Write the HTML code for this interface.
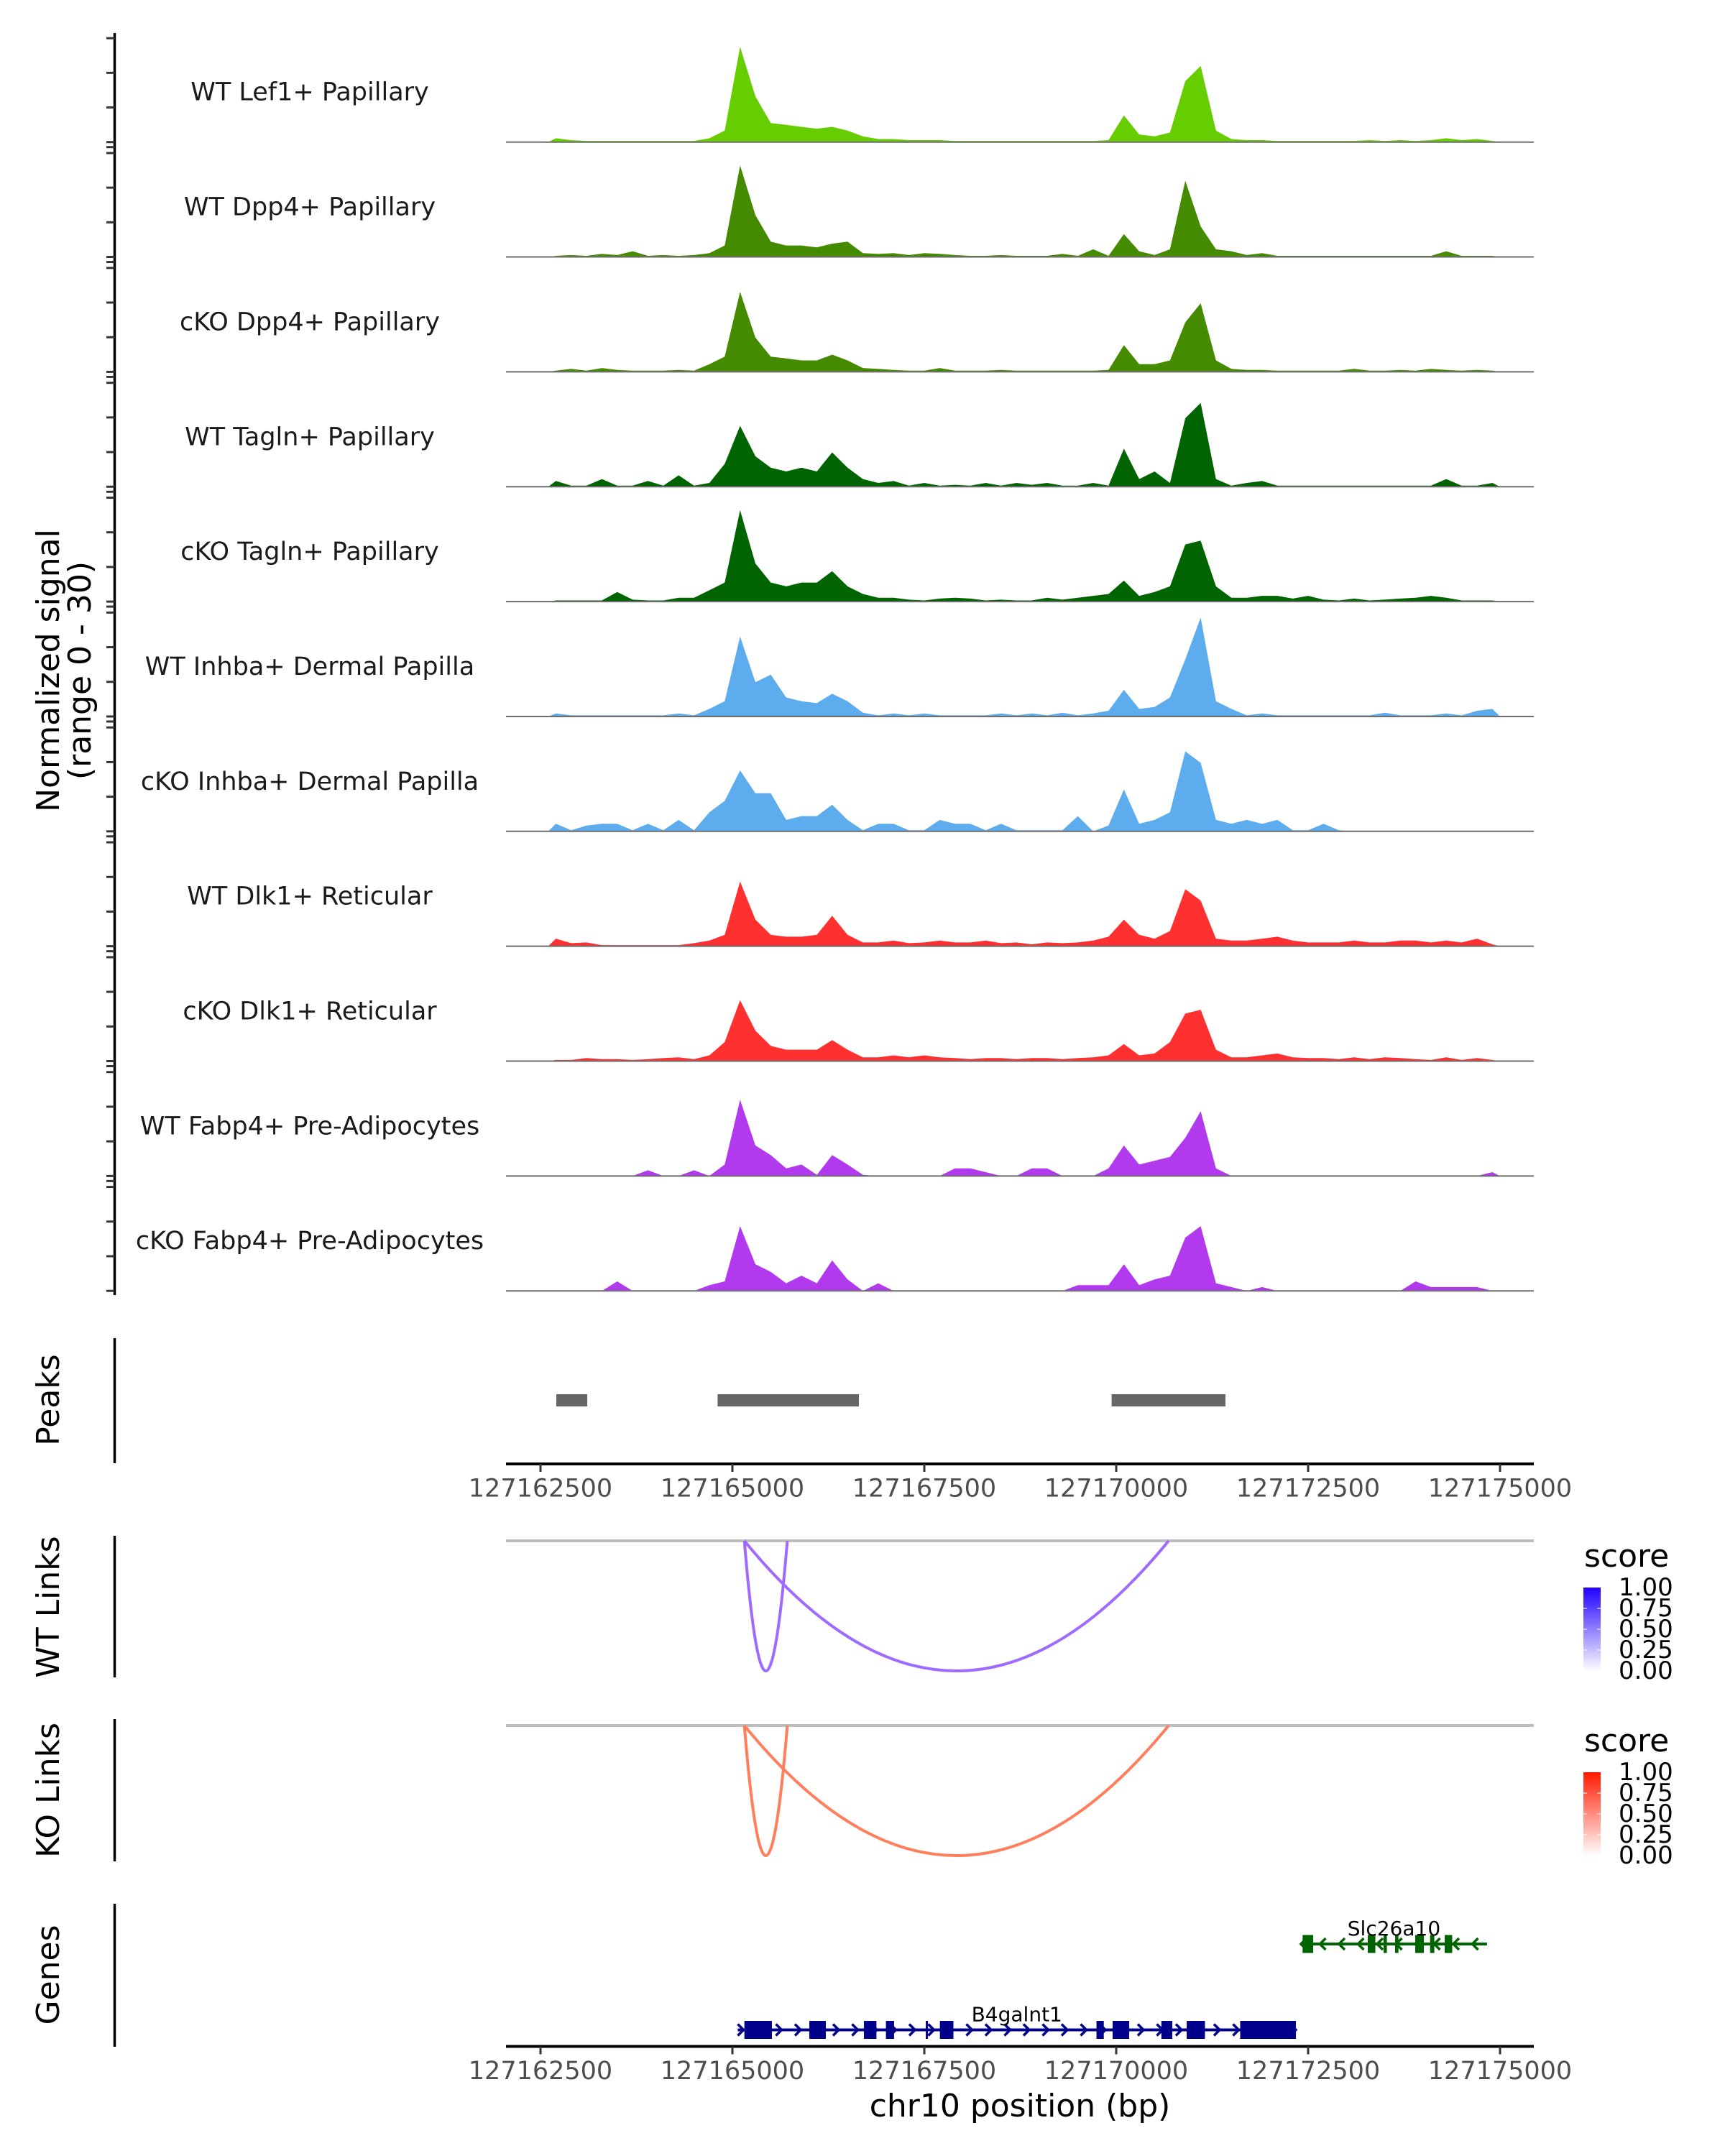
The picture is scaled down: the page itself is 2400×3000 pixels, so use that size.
<!DOCTYPE html>
<html><head><meta charset="utf-8"><style>
html,body{margin:0;padding:0;background:#fff;}
svg{display:block;font-family:"DejaVu Sans","Liberation Sans",sans-serif;}
</style></head><body>
<svg id="chart" width="2400" height="3000" viewBox="0 0 2400 3000" xmlns="http://www.w3.org/2000/svg"></svg>
<script>
// ---- data ----
const binStart = 127162600;
const binSize = 200;
const trackNames = ["WT Lef1+ Papillary","WT Dpp4+ Papillary","cKO Dpp4+ Papillary","WT Tagln+ Papillary","cKO Tagln+ Papillary","WT Inhba+ Dermal Papilla","cKO Inhba+ Dermal Papilla","WT Dlk1+ Reticular","cKO Dlk1+ Reticular","WT Fabp4+ Pre-Adipocytes","cKO Fabp4+ Pre-Adipocytes"];
const trackColors = ["#66cd00","#458b00","#458b00","#006400","#006400","#5cacee","#5cacee","#ff3030","#ff3030","#b23aee","#b23aee"];
const sigLef1WT = [1,0.5,0.3,0.3,0.3,0.3,0.3,0.3,0.3,0.3, 1,3,25,12,5,4.5,4,3.5,4,3, 1.5,0.8,0.8,0.5,0.5,0.5,0.3,0.3,0.3,0.3, 0.3,0.3,0.3,0.3,0.3,0.3,0.5,7,2,1.5, 2.5,16,20,3,0.8,0.5,0.5,0.3,0.3,0.3, 0.3,0.3,0.3,0.5,0.3,0.5,0.3,0.5,1,0.5, 0.8,0.3];
const sigDpp4WT = [0.3,0.5,0.3,0.8,0.5,1.5,0.3,0.5,0.3,0.5, 1,3,24,11,4,3,3,2.5,3.5,4, 1,0.8,1,0.5,1,0.8,0.5,0.3,0.3,0.5, 0.3,0.3,0.3,0.8,0.3,2,0.3,6,1.5,0.5, 2,20,8,2,1.5,0.5,1,0.3,0.3,0.3, 0.3,0.3,0.3,0.3,0.3,0.3,0.3,0.3,1.5,0.3, 0.3,0.3];
const sigDpp4KO = [0.3,0.8,0.3,1,0.5,0.3,0.3,0.3,0.5,0.3, 2,4,21,9,4,3.5,3,3,4.5,3, 1,0.8,0.5,0.3,0.3,1,0.3,0.3,0.3,0.5, 0.3,0.3,0.3,0.3,0.3,0.3,0.5,7,2,2, 3,13,18,3,0.8,0.5,0.5,0.3,0.3,0.3, 0.3,0.3,0.8,0.3,0.3,0.5,0.3,0.8,0.5,0.3, 0.5,0.3];
const sigTaglnWT = [1.5,0.3,0.3,2,0.3,0.3,1.5,0.3,3,0.3, 1,6,16,8,5,4,5,4,9,5, 2,1,1.5,0.3,1,0.3,0.5,0.3,1,0.3, 1,0.5,1,0.3,0.3,1,0.3,10,2,4, 1,18,22,2,0.3,1,1.5,0.3,0.3,0.3, 0.3,0.3,0.3,0.3,0.3,0.3,0.3,0.3,2,0.3, 0.3,1];
const sigTaglnKO = [0.3,0.3,0.3,0.3,2.5,0.5,0.3,0.3,1,1, 3,5,24,10,5,4,5,5,8,4, 2,1,1,0.5,0.3,0.8,1,0.8,0.3,0.5, 0.3,0.3,1,0.5,1,1.5,2,5.5,1.5,2.5, 4,15,16,4,1,1,1.5,1.5,0.8,1.5, 0.5,0.3,0.8,0.3,0.5,0.8,1,1.5,1,0.3, 0.3,0.3];
const sigInhbaWT = [0.8,0.3,0.3,0.3,0.3,0.3,0.3,0.3,0.8,0.3, 2,4,21,9,11,5,4,3.5,6,4, 1,0.3,0.8,0.3,0.8,0.3,0.3,0.3,0.3,0.8, 0.3,0.8,0.3,1,0.3,0.8,1.5,7,2,2.5, 5,15,26,4,2,0.3,0.8,0.3,0.3,0.3, 0.3,0.3,0.3,0.3,1,0.3,0.3,0.3,0.8,0.3, 1.5,2];
const sigInhbaKO = [2,0.3,1.5,2,2,0.3,2,0.3,3,0.3, 5,8,16,10,10,3,4,4,7,3, 0.3,2,2,0.3,0.3,3,2,2,0.3,2, 0.3,0.3,0.3,0.3,4,0,1.5,11,2,3, 5,21,18,3,2,3,2,3,0.3,0.3, 2,0.3,0,0,0,0,0,0,0,0, 0,0];
const sigDlk1WT = [2,0.8,1,0.3,0.3,0.3,0.3,0.3,0.3,0.8, 1.5,3,17,7,3,2.5,2.5,3,8,3, 1,1,1.5,0.8,1,1.5,1,1,1.5,0.8, 1,0.5,1,0.8,1,1.5,2.5,7,3,2, 4,15,12,2,1.5,1.5,2,2.5,1.5,1, 1,1,1.5,1,1,1.5,1.5,1,1.5,1, 2,0.5];
const sigDlk1KO = [0.3,0.3,0.8,0.5,0.5,0.3,0.5,0.8,1,0.5, 1.5,5,16,8,4,3,3,3,5.5,3, 1,1,1.5,1,1.5,1,0.8,0.5,0.8,0.8, 0.5,0.8,0.8,0.5,0.8,1,1.5,4.5,1.5,2, 5,12.5,13.5,3,1,1,1.5,2,1,0.8, 0.8,0.5,1,0.5,1,0.8,0.5,0.3,1,0.3, 0.8,0.3];
const sigFabp4WT = [0,0,0,0,0,0,1.5,0,0,1.5, 0,3,20,8,5.5,2,3,0.3,5.5,3, 0.3,0,0,0,0,0,2,2,1,0, 0,2,2,0,0,0,2,8,3,4, 5,10,17,2,0,0,0,0,0,0, 0,0,0,0,0,0,0,0,0,0, 0,1];
const sigFabp4KO = [0,0,0,0,2.5,0,0,0,0,0, 1.5,2.5,17,7,5,2,4,2,8,3, 0,2,0,0,0,0,0,0,0,0, 0,0,0,0,1.5,1.5,1.5,7,1.5,3, 4,14,17,2,1,0,1,0,0,0, 0,0,0,0,0,0,2.5,1,1,1, 1,0];
const trackSignals = [sigLef1WT,sigDpp4WT,sigDpp4KO,sigTaglnWT,sigTaglnKO,sigInhbaWT,sigInhbaKO,sigDlk1WT,sigDlk1KO,sigFabp4WT,sigFabp4KO];
const peakStarts = [127162706,127164807,127169940];
const peakEnds = [127163109,127166648,127171423];
const wtLinkStarts = [127165156,127165156];
const wtLinkEnds = [127165715,127170683];
const koLinkStarts = [127165156,127165156];
const koLinkEnds = [127165715,127170683];
const xTicks = [127162500,127165000,127167500,127170000,127172500,127175000];
const legendTicks = ["1.00","0.75","0.50","0.25","0.00"];
const b4Start = 127165070, b4End = 127172341;
const b4ExonStarts = [127165156,127166002,127166713,127167000,127167519,127167703,127169743,127169953,127170588,127170918,127171615];
const b4ExonEnds   = [127165515,127166217,127166876,127167106,127167536,127167879,127169838,127170169,127170730,127171156,127172341];
const slcStart = 127172406, slcEnd = 127174831;
const slcExonStarts = [127172428,127173277,127173483,127173633,127173895,127174089,127174279];
const slcExonEnds   = [127172566,127173376,127173526,127173677,127174008,127174144,127174377];

// ---- scales ----
const X0 = 752, PXBP = 0.1068;
function xs(bp){ return X0 + (bp - 127162500) * PXBP; }
const TRACK0 = 197.7, TRACKSTEP = 159.85, YUNIT = 159/30;
const svg = document.getElementById('chart');
const NS = 'http://www.w3.org/2000/svg';
function mk(tag, attrs, parent){ const e=document.createElementNS(NS,tag); for(const k in attrs) e.setAttribute(k,attrs[k]); (parent||svg).appendChild(e); return e; }

// ---- left signal axis ----
const yAxis = mk('line',{x1:159.5,y1:46,x2:159.5,y2:1802,stroke:'#000','stroke-width':3.5});


for(let k=0;k<trackNames.length;k++){
  const base = TRACK0 + k*TRACKSTEP;
  for(let j=0;j<4;j++){
    const t = mk('line',{x1:148,y1:base-j*48.2,x2:159.5,y2:base-j*48.2,stroke:'#333','stroke-width':3});
    
    
  }
  if(k>0){
    const t2 = mk('line',{x1:148,y1:base-TRACKSTEP+7,x2:159.5,y2:base-TRACKSTEP+7,stroke:'#333','stroke-width':3});
    
    
  }
}
const yt = mk('text',{transform:'translate(82,933) rotate(-90)','text-anchor':'middle','font-size':44,fill:'#000'});
yt.textContent='Normalized signal';


const yt2 = mk('text',{transform:'translate(126,933) rotate(-90)','text-anchor':'middle','font-size':44,fill:'#000'});
yt2.textContent='(range 0 - 30)';



// ---- signal tracks ----
for(let k=0;k<trackNames.length;k++){
  const base = TRACK0 + k*TRACKSTEP;
  const vals = trackSignals[k];
  let d = 'M'+xs(binStart).toFixed(1)+' '+base;
  for(let i=0;i<vals.length;i++){
    const bx = xs(binStart + i*binSize + binSize/2);
    d += ' L'+bx.toFixed(1)+' '+(base - vals[i]*YUNIT).toFixed(1);
  }
  d += ' L'+xs(binStart+vals.length*binSize).toFixed(1)+' '+base+' Z';
  const p = mk('path',{d:d,fill:trackColors[k],stroke:'none'});
  
  
  const bl = mk('line',{x1:704,y1:base,x2:2134,y2:base,stroke:'#6e6e6e','stroke-width':2});
  
  
  const lab = mk('text',{x:431,y:base-58,'text-anchor':'middle','font-size':35,fill:'#1a1a1a'});
  lab.textContent = trackNames[k];
  
  
}

// ---- panel side labels ----
function sideLabel(txt,cy,y1,y2,name){
  const l = mk('line',{x1:159.5,y1:y1,x2:159.5,y2:y2,stroke:'#000','stroke-width':3.5});
  
  
  const t = mk('text',{transform:'translate(82,'+cy+') rotate(-90)','text-anchor':'middle','font-size':44,fill:'#000'});
  t.textContent = txt;
  
  
}
sideLabel('Peaks',1948,1862,2036,'peaks');
sideLabel('WT Links',2236,2137,2334,'wt-links');
sideLabel('KO Links',2491,2392,2590,'ko-links');
sideLabel('Genes',2748,2649,2848,'genes');

// ---- peaks ----
for(let i=0;i<peakStarts.length;i++){
  const r = mk('rect',{x:xs(peakStarts[i]),y:1940,width:xs(peakEnds[i])-xs(peakStarts[i]),height:17,fill:'#666'});
  
  
}

// ---- x axes ----
function xAxis(y,name){
  const a = mk('line',{x1:704,y1:y,x2:2134,y2:y,stroke:'#000','stroke-width':4});
  
  
  xTicks.forEach(v=>{
    const t = mk('line',{x1:xs(v),y1:y,x2:xs(v),y2:y+11,stroke:'#333','stroke-width':3});
    
    
    const tl = mk('text',{x:xs(v),y:y+45.5,'text-anchor':'middle','font-size':35,fill:'#4d4d4d'});
    tl.textContent = String(v);
    
    
  });
}
xAxis(2037,'peaks-x-axis');
xAxis(2847.5,'genes-x-axis');
const xt = mk('text',{x:1419,y:2945,'text-anchor':'middle','font-size':44,fill:'#000'});
xt.textContent = 'chr10 position (bp)';



// ---- links ----
function links(y0,starts,ends,color,name){
  const g = mk('line',{x1:704,y1:y0,x2:2134,y2:y0,stroke:'#bebebe','stroke-width':4});
  
  
  const depth = 181;
  for(let i=0;i<starts.length;i++){
    const a = xs(starts[i]), b = xs(ends[i]);
    const p = mk('path',{d:'M'+a+' '+y0+' Q'+((a+b)/2)+' '+(y0+2*depth)+' '+b+' '+y0,fill:'none',stroke:color,'stroke-width':4});
    
    
  }
}
links(2144,wtLinkStarts,wtLinkEnds,'#9f6bff','wt-link');
links(2401,koLinkStarts,koLinkEnds,'#ff7f5c','ko-link');

// ---- legends ----
const defs = mk('defs',{});
function grad(id,col){
  const lg = mk('linearGradient',{id:id,x1:0,y1:0,x2:0,y2:1},defs);
  mk('stop',{offset:0,'stop-color':col},lg);
  mk('stop',{offset:1,'stop-color':'#ffffff'},lg);
}
grad('gblue','#1f00ff'); grad('gred','#ff1a00');
function legend(top,gid,name){
  const t = mk('text',{x:2204,y:top,'font-size':44,fill:'#000'});
  t.textContent='score';
  
  
  const by = top+29;
  const r = mk('rect',{x:2203,y:by,width:24,height:116,fill:'url(#'+gid+')'});
  
  
  legendTicks.forEach((lab,i)=>{
    const yy = by + i*29;
    if(i>0&&i<4){
      mk('line',{x1:2203,y1:yy,x2:2208,y2:yy,stroke:'#fff','stroke-width':1});
      mk('line',{x1:2222,y1:yy,x2:2227,y2:yy,stroke:'#fff','stroke-width':1});
    }
    const tl = mk('text',{x:2252,y:yy+11,'font-size':34,fill:'#000'});
    tl.textContent = lab;
    
    
  });
}
legend(2180,'gblue','wt-score-legend');
legend(2437,'gred','ko-score-legend');

// ---- genes ----
function gene(y,start,end,es,ee,color,dir,label,name){
  const l = mk('line',{x1:xs(start),y1:y,x2:xs(end),y2:y,stroke:color,'stroke-width':4});
  
  
  for(let x=xs(start)+4; x<xs(end)-4; x+=26.5){
    const s = dir>0 ? 'M'+(x-4)+' '+(y-8)+' L'+(x+4)+' '+y+' L'+(x-4)+' '+(y+8) : 'M'+(x+4)+' '+(y-8)+' L'+(x-4)+' '+y+' L'+(x+4)+' '+(y+8);
    mk('path',{d:s,fill:'none',stroke:color,'stroke-width':3.5});
  }
  for(let i=0;i<es.length;i++){
    const r = mk('rect',{x:xs(es[i]),y:y-12.5,width:Math.max(3,xs(ee[i])-xs(es[i])),height:25,fill:color});
    
    
  }
  const t = mk('text',{x:(xs(start)+xs(end))/2,y:y-12,'text-anchor':'middle','font-size':28,fill:'#000'});
  t.textContent = label;
  
  
}
gene(2824.5,b4Start,b4End,b4ExonStarts,b4ExonEnds,'#00008b',1,'B4galnt1','b4galnt1-gene');
gene(2705,slcStart,slcEnd,slcExonStarts,slcExonEnds,'#006400',-1,'Slc26a10','slc26a10-gene');
</script>
</body></html>
